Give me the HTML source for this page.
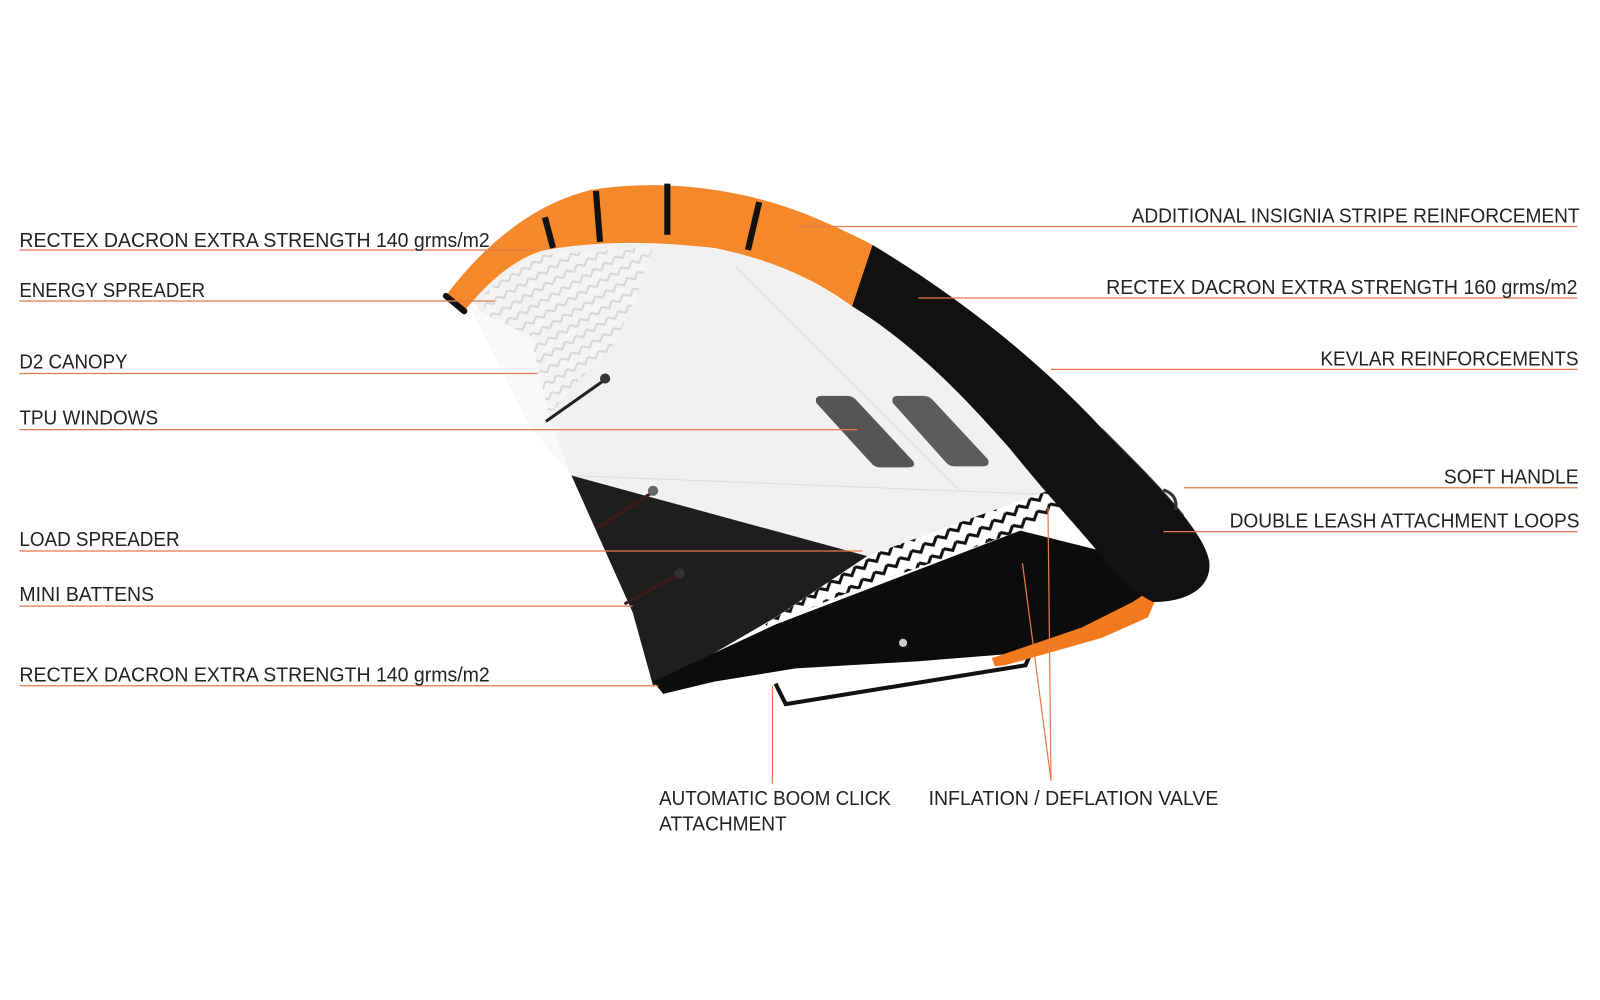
<!DOCTYPE html>
<html><head><meta charset="utf-8"><style>
html,body{margin:0;padding:0;background:#fff;width:1600px;height:1000px;overflow:hidden}
svg{display:block}
text{font-family:"Liberation Sans",sans-serif;font-size:20px;fill:#222}
</style></head><body>
<svg width="1600" height="1000" viewBox="0 0 1568 980" xmlns="http://www.w3.org/2000/svg">
<defs>
<pattern id="zz" width="14" height="14" patternUnits="userSpaceOnUse" patternTransform="rotate(-30)">
<rect width="14" height="14" fill="#fff"/>
<path d="M0 4 L7 10 L14 4" stroke="#111" stroke-width="3" fill="none"/>
</pattern>
<pattern id="zl" width="12" height="12" patternUnits="userSpaceOnUse" patternTransform="rotate(-30)">
<rect width="12" height="12" fill="#f4f4f4"/>
<path d="M0 3 L6 8 L12 3" stroke="#d8d8d8" stroke-width="2" fill="none"/>
</pattern>
</defs>
<!-- canopy white -->
<polygon points="462,292 520,245 590,238 680,240 760,255 835,300 900,345 980,430 1035,485 850,545 560,466 535,412" fill="#f1f1f1"/>
<polygon points="470,292 520,250 640,242 620,300 600,340 560,380 535,412 500,350" fill="url(#zl)"/>
<polygon points="460,300 520,330 540,415 560,466 520,420" fill="#f8f8f8"/>
<line x1="560" y1="466" x2="1035" y2="485" stroke="#ddd" stroke-width="1"/>
<line x1="720" y1="260" x2="940" y2="480" stroke="#ddd" stroke-width="1"/>
<!-- windows -->
<path d="M805 388 L830 388 Q836 388 840 393 L895 452 Q898 458 890 458 L862 458 Q857 458 853 453 L800 395 Q798 388 805 388 Z" fill="#555"/>
<path d="M880 388 L905 388 Q911 388 915 393 L968 450 Q971 457 963 457 L935 457 Q930 457 926 452 L875 395 Q873 388 880 388 Z" fill="#5c5c5c"/>
<!-- dark lower canopy -->
<polygon points="560,466 850,545 760,605 700,640 640,672 620,600" fill="#1e1e1e"/>
<!-- zigzag strip -->
<polygon points="750,612 850,545 960,505 1030,480 1045,495 1000,520 820,585 752,614" fill="url(#zz)"/>
<!-- lower strut -->
<polygon points="640,668 700,640 760,612 1000,520 1080,540 1130,580 1120,600 1000,640 900,648 780,655 700,668 650,680" fill="#0c0c0c"/>
<!-- boom -->
<path d="M760 670 L770 690 L1005 652 L1010 640" stroke="#111" stroke-width="4" fill="none"/>
<circle cx="885" cy="630" r="4" fill="#ccc"/>
<!-- bottom orange tip -->
<polygon points="972,645 1060,615 1110,590 1140,570 1125,605 1080,625 985,652 975,653" fill="#f27a1e"/>
<!-- black leading edge -->
<path d="M855 240 C930 285 1010 345 1080 420 C1130 470 1180 520 1185 550 C1188 575 1165 590 1130 590 C1110 580 1095 565 1090 558 C1060 520 1030 490 990 440 C950 395 900 340 835 300 Z" fill="#111"/>
<path d="M1080 420 C1110 450 1140 480 1160 505" stroke="#444" stroke-width="1" fill="none"/>
<path d="M1140 480 q15 5 12 20" stroke="#333" stroke-width="3" fill="none"/>
<!-- orange leading edge -->
<path d="M437 290 C470 245 520 200 580 186 C640 176 720 182 790 210 C815 220 840 232 855 240 L835 300 C800 275 760 255 700 243 C640 236 580 236 530 246 C500 256 475 280 455 305 Z" fill="#f5882a"/>
<path d="M437 290 L455 305" stroke="#111" stroke-width="6" stroke-linecap="round"/>
<path d="M534 213 L542 243" stroke="#111" stroke-width="6"/>
<path d="M584 187 L588 237" stroke="#111" stroke-width="6"/>
<path d="M654 180 L654 230" stroke="#111" stroke-width="6"/>
<path d="M744 198 L733 245" stroke="#111" stroke-width="6"/>
<!-- battens -->
<line x1="535" y1="413" x2="593" y2="372" stroke="#222" stroke-width="3"/><circle cx="593" cy="371" r="5" fill="#333"/>
<line x1="585" y1="518" x2="640" y2="482" stroke="#3a1a1a" stroke-width="3"/><circle cx="640" cy="481" r="5" fill="#666"/>
<line x1="612" y1="592" x2="666" y2="562" stroke="#3a1a1a" stroke-width="3"/><circle cx="666" cy="562" r="5" fill="#333"/>
<!-- leader lines -->
<g stroke="#e8794a" stroke-width="1.2" fill="none">
<line x1="19" y1="245" x2="525" y2="245"/>
<line x1="19" y1="295" x2="485" y2="295"/>
<line x1="19" y1="366" x2="527" y2="366"/>
<line x1="19" y1="421" x2="840" y2="421"/>
<line x1="19" y1="540" x2="845" y2="540"/>
<line x1="19" y1="594" x2="620" y2="594"/>
<line x1="19" y1="672" x2="645" y2="672"/>
<line x1="780" y1="222" x2="1546" y2="222"/>
<line x1="900" y1="292" x2="1546" y2="292"/>
<line x1="1030" y1="362" x2="1546" y2="362"/>
<line x1="1160" y1="478" x2="1546" y2="478"/>
<line x1="1140" y1="521" x2="1546" y2="521"/>
<line x1="757" y1="672" x2="757" y2="768"/>
<line x1="1030" y1="765" x2="1027" y2="497"/>
<line x1="1030" y1="765" x2="1002" y2="552"/>
</g>
<!-- labels -->
<text x="19" y="242" textLength="461" lengthAdjust="spacingAndGlyphs">RECTEX DACRON EXTRA STRENGTH 140 grms/m2</text>
<text x="19" y="291" textLength="182" lengthAdjust="spacingAndGlyphs">ENERGY SPREADER</text>
<text x="19" y="361" textLength="106" lengthAdjust="spacingAndGlyphs">D2 CANOPY</text>
<text x="19" y="416" textLength="136" lengthAdjust="spacingAndGlyphs">TPU WINDOWS</text>
<text x="19" y="535" textLength="157" lengthAdjust="spacingAndGlyphs">LOAD SPREADER</text>
<text x="19" y="589" textLength="132" lengthAdjust="spacingAndGlyphs">MINI BATTENS</text>
<text x="19" y="668" textLength="461" lengthAdjust="spacingAndGlyphs">RECTEX DACRON EXTRA STRENGTH 140 grms/m2</text>
<text x="1109" y="218" textLength="439" lengthAdjust="spacingAndGlyphs">ADDITIONAL INSIGNIA STRIPE REINFORCEMENT</text>
<text x="1084" y="288" textLength="462" lengthAdjust="spacingAndGlyphs">RECTEX DACRON EXTRA STRENGTH 160 grms/m2</text>
<text x="1294" y="358" textLength="253" lengthAdjust="spacingAndGlyphs">KEVLAR REINFORCEMENTS</text>
<text x="1415" y="474" textLength="132" lengthAdjust="spacingAndGlyphs">SOFT HANDLE</text>
<text x="1205" y="517" textLength="343" lengthAdjust="spacingAndGlyphs">DOUBLE LEASH ATTACHMENT LOOPS</text>
<text x="646" y="789" textLength="227" lengthAdjust="spacingAndGlyphs">AUTOMATIC BOOM CLICK</text>
<text x="646" y="814" textLength="125" lengthAdjust="spacingAndGlyphs">ATTACHMENT</text>
<text x="910" y="789" textLength="284" lengthAdjust="spacingAndGlyphs">INFLATION / DEFLATION VALVE</text>
</svg>
</body></html>
